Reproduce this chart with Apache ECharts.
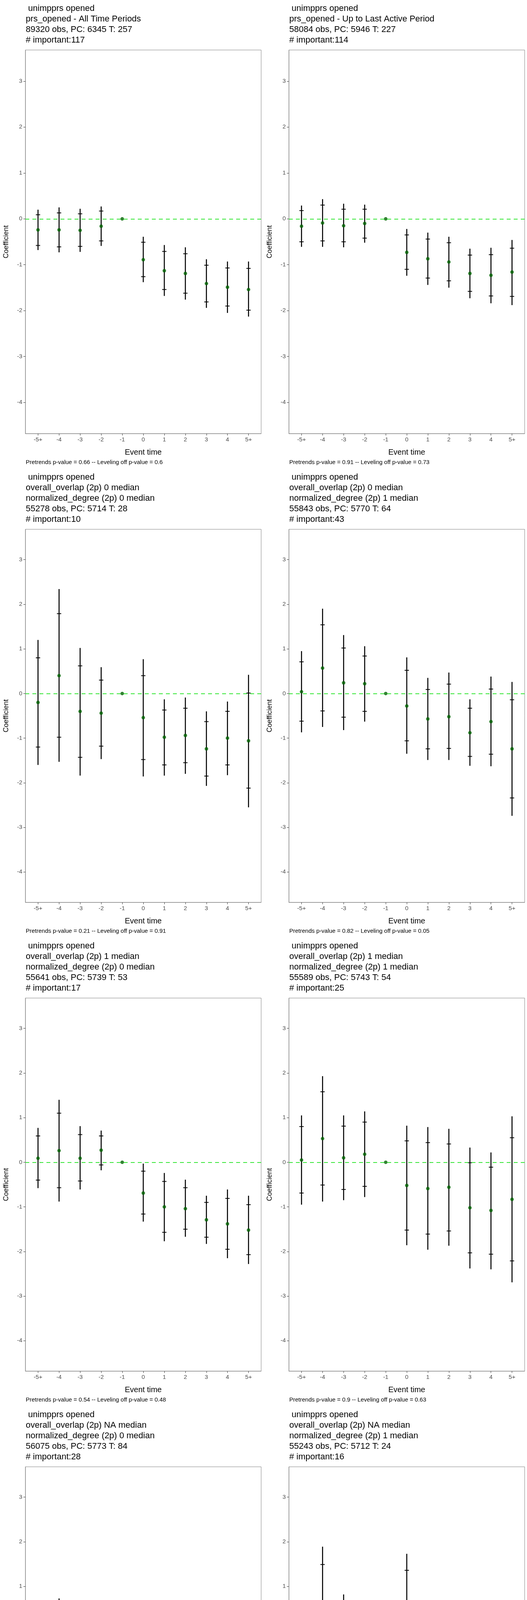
<!DOCTYPE html>
<html>
<head>
<meta charset="utf-8">
<script src="https://cdn.jsdelivr.net/npm/echarts@6.0.0/dist/echarts.min.js"></script>
<style>
  html, body { margin: 0; padding: 0; background: #fff; overflow: hidden; }
  #chart { width: 1350px; height: 4800px; }
</style>
</head>
<body>
<div id="chart"></div>
<script>
const eventLabels = ["-5+", "-4", "-3", "-2", "-1", "0", "1", "2", "3", "4", "5+"];
const yTicks = [-4, -3, -2, -1, 0, 1, 2, 3];

const titles = [
    [" unimpprs opened", "prs_opened - All Time Periods", "89320 obs, PC: 6345 T: 257", "# important:117"],
    [" unimpprs opened", "prs_opened - Up to Last Active Period", "58084 obs, PC: 5946 T: 227", "# important:114"],
    [" unimpprs opened", "overall_overlap (2p) 0 median", "normalized_degree (2p) 0 median", "55278 obs, PC: 5714 T: 28", "# important:10"],
    [" unimpprs opened", "overall_overlap (2p) 0 median", "normalized_degree (2p) 1 median", "55843 obs, PC: 5770 T: 64", "# important:43"],
    [" unimpprs opened", "overall_overlap (2p) 1 median", "normalized_degree (2p) 0 median", "55641 obs, PC: 5739 T: 53", "# important:17"],
    [" unimpprs opened", "overall_overlap (2p) 1 median", "normalized_degree (2p) 1 median", "55589 obs, PC: 5743 T: 54", "# important:25"],
    [" unimpprs opened", "overall_overlap (2p) NA median", "normalized_degree (2p) 0 median", "56075 obs, PC: 5773 T: 84", "# important:28"],
    [" unimpprs opened", "overall_overlap (2p) NA median", "normalized_degree (2p) 1 median", "55243 obs, PC: 5712 T: 24", "# important:16"]
];

const pvalues = [
    "Pretrends p-value = 0.66 -- Leveling off p-value = 0.6",
    "Pretrends p-value = 0.91 -- Leveling off p-value = 0.73",
    "Pretrends p-value = 0.21 -- Leveling off p-value = 0.91",
    "Pretrends p-value = 0.82 -- Leveling off p-value = 0.05",
    "Pretrends p-value = 0.54 -- Leveling off p-value = 0.48",
    "Pretrends p-value = 0.9 -- Leveling off p-value = 0.63",
    "Pretrends p-value = 0.32 -- Leveling off p-value = 0.62",
    "Pretrends p-value = 0.01 -- Leveling off p-value = 0"
];

// point estimates per panel (index 4 = reference period -1)
const estimates = [
    [-0.24, -0.24, -0.25, -0.16, 0, -0.89, -1.13, -1.19, -1.41, -1.49, -1.54],
    [-0.16, -0.09, -0.15, -0.10, 0, -0.73, -0.87, -0.94, -1.19, -1.23, -1.16],
    [-0.20, 0.40, -0.40, -0.44, 0, -0.54, -0.98, -0.94, -1.24, -1.00, -1.06],
    [0.04, 0.57, 0.24, 0.22, 0, -0.28, -0.57, -0.52, -0.88, -0.63, -1.24],
    [0.09, 0.26, 0.09, 0.27, 0, -0.69, -1.00, -1.04, -1.29, -1.38, -1.52],
    [0.05, 0.53, 0.10, 0.18, 0, -0.52, -0.59, -0.56, -1.02, -1.08, -0.83],
    [-0.29, -0.07, -0.25, -0.34, 0, -0.57, -0.88, -1.04, -1.27, -1.22, -1.31],
    [-0.88, -0.15, -0.70, -1.02, 0, -0.21, -1.33, -1.21, -1.60, -1.42, -2.19]
];
const innerLow = [
    [-0.58, -0.61, -0.60, -0.48, null, -1.26, -1.54, -1.62, -1.81, -1.90, -1.99],
    [-0.50, -0.48, -0.50, -0.42, null, -1.10, -1.29, -1.35, -1.58, -1.68, -1.69],
    [-1.20, -0.98, -1.43, -1.18, null, -1.48, -1.60, -1.55, -1.85, -1.60, -2.12],
    [-0.62, -0.39, -0.53, -0.40, null, -1.06, -1.24, -1.23, -1.41, -1.36, -2.34],
    [-0.40, -0.57, -0.42, -0.06, null, -1.16, -1.57, -1.50, -1.68, -1.95, -2.07],
    [-0.69, -0.51, -0.61, -0.54, null, -1.52, -1.61, -1.54, -2.03, -2.06, -2.21],
    [-0.71, -0.65, -0.65, -0.69, null, -1.18, -1.60, -1.62, -1.84, -1.89, -1.92],
    [-2.08, -1.78, -1.94, -2.04, null, -1.77, -2.18, -2.12, -2.47, -2.34, -3.03]
];
const innerHigh = [
    [0.09, 0.13, 0.11, 0.17, null, -0.51, -0.71, -0.76, -1.01, -1.07, -1.08],
    [0.18, 0.30, 0.21, 0.21, null, -0.35, -0.44, -0.52, -0.79, -0.78, -0.64],
    [0.80, 1.79, 0.62, 0.30, null, 0.40, -0.37, -0.33, -0.63, -0.40, 0.01],
    [0.71, 1.54, 1.02, 0.84, null, 0.52, 0.09, 0.21, -0.33, 0.10, -0.14],
    [0.59, 1.10, 0.62, 0.59, null, -0.20, -0.43, -0.57, -0.90, -0.81, -0.95],
    [0.80, 1.58, 0.81, 0.90, null, 0.48, 0.44, 0.41, -0.01, -0.11, 0.55],
    [0.13, 0.51, 0.15, -0.01, null, 0.05, -0.17, -0.47, -0.71, -0.54, -0.71],
    [0.34, 1.49, 0.53, 0.00, null, 1.36, -0.49, -0.30, -0.71, -0.50, -1.33]
];
const outerLow = [
    [-0.68, -0.73, -0.72, -0.59, null, -1.38, -1.68, -1.76, -1.94, -2.05, -2.13],
    [-0.61, -0.61, -0.62, -0.52, null, -1.24, -1.44, -1.50, -1.73, -1.84, -1.88],
    [-1.60, -1.53, -1.84, -1.47, null, -1.86, -1.84, -1.80, -2.07, -1.83, -2.55],
    [-0.87, -0.75, -0.82, -0.63, null, -1.35, -1.49, -1.49, -1.62, -1.63, -2.74],
    [-0.58, -0.88, -0.61, -0.18, null, -1.33, -1.77, -1.67, -1.83, -2.15, -2.28],
    [-0.95, -0.88, -0.85, -0.78, null, -1.86, -1.96, -1.87, -2.38, -2.40, -2.69],
    [-0.88, -0.88, -0.80, -0.82, null, -1.41, -1.86, -1.83, -2.05, -2.15, -2.15],
    [-2.37, -2.18, -2.23, -2.28, null, -2.14, -2.38, -2.34, -2.68, -2.57, -3.24]
];
const outerHigh = [
    [0.20, 0.25, 0.22, 0.27, null, -0.39, -0.57, -0.62, -0.88, -0.93, -0.93],
    [0.29, 0.43, 0.33, 0.31, null, -0.22, -0.30, -0.39, -0.65, -0.63, -0.46],
    [1.20, 2.34, 1.02, 0.59, null, 0.77, -0.13, -0.09, -0.40, -0.18, 0.42],
    [0.95, 1.90, 1.31, 1.06, null, 0.81, 0.35, 0.47, -0.13, 0.38, 0.26],
    [0.77, 1.40, 0.81, 0.71, null, -0.03, -0.24, -0.39, -0.75, -0.61, -0.75],
    [1.05, 1.93, 1.05, 1.14, null, 0.82, 0.79, 0.75, 0.33, 0.22, 1.03],
    [0.29, 0.73, 0.30, 0.12, null, 0.28, 0.10, -0.26, -0.50, -0.29, -0.48],
    [0.62, 1.89, 0.82, 0.24, null, 1.73, -0.30, -0.09, -0.51, -0.28, -1.14]
];

const FONT = "Liberation Sans, Arial, sans-serif";
const chart = echarts.init(document.getElementById("chart"), null, { renderer: "canvas" });

const grids = [], xAxes = [], yAxes = [], series = [], graphics = [];

titles.forEach((lines, i) => {
    const col = i % 2;
    const row = Math.floor(i / 2);
    const ox = col * 675;
    const oy = row * 1200;
    const top = oy + (lines.length === 4 ? 128 : 155);
    const bottom = oy + 1110;

    grids.push({
        left: ox + 65, width: 604, top, height: bottom - top,
        show: true, borderColor: "#7f7f7f", borderWidth: 1, backgroundColor: "#fff"
    });
    xAxes.push({
        type: "value", gridIndex: i, min: -0.6, max: 10.6,
        name: "Event time", nameLocation: "middle", nameGap: 38,
        nameTextStyle: { fontFamily: FONT, fontSize: 20, color: "#000" },
        axisLine: { show: true, onZero: false, lineStyle: { color: "#7f7f7f" } },
        axisTick: { show: true, customValues: eventLabels.map((_, k) => k), length: 5, lineStyle: { color: "#333" } },
        axisLabel: {
            customValues: eventLabels.map((_, k) => k), formatter: (v) => eventLabels[Math.round(v)],
            fontFamily: FONT, fontSize: 15, color: "#4d4d4d", margin: 8
        },
        splitLine: { show: false }
    });
    yAxes.push({
        type: "value", gridIndex: i, min: -4.68, max: 3.68,
        name: "Coefficient", nameLocation: "middle", nameGap: 40,
        nameTextStyle: { fontFamily: FONT, fontSize: 18, color: "#000" },
        axisLine: { show: true, onZero: false, lineStyle: { color: "#7f7f7f" } },
        axisTick: { show: true, customValues: yTicks, length: 5, lineStyle: { color: "#333" } },
        axisLabel: { customValues: yTicks, fontFamily: FONT, fontSize: 15, color: "#4d4d4d", margin: 8 },
        splitLine: { show: false }
    });

    const barData = estimates[i].map((_, k) => [k, outerLow[i][k], outerHigh[i][k], innerLow[i][k], innerHigh[i][k]])
        .filter((d) => d[1] !== null);
    series.push({
        type: "custom", xAxisIndex: i, yAxisIndex: i, data: barData, silent: true,
        encode: { x: 0, y: [1, 2] },
        renderItem(params, api) {
            const x = api.value(0);
            const oLo = api.coord([x, api.value(1)]);
            const oHi = api.coord([x, api.value(2)]);
            const iLo = api.coord([x, api.value(3)]);
            const iHi = api.coord([x, api.value(4)]);
            const style = { stroke: "#000", lineWidth: 2.6 };
            const cap = 5.5;
            return {
                type: "group",
                children: [
                    { type: "line", shape: { x1: oLo[0], y1: oLo[1], x2: oHi[0], y2: oHi[1] }, style },
                    { type: "line", shape: { x1: iLo[0] - cap, y1: iLo[1], x2: iLo[0] + cap, y2: iLo[1] }, style: { stroke: "#000", lineWidth: 2 } },
                    { type: "line", shape: { x1: iHi[0] - cap, y1: iHi[1], x2: iHi[0] + cap, y2: iHi[1] }, style: { stroke: "#000", lineWidth: 2 } }
                ]
            };
        },
        z: 3
    });
    series.push({
        type: "scatter", xAxisIndex: i, yAxisIndex: i,
        data: estimates[i].map((v, k) => [k, v]),
        symbol: "circle", symbolSize: 9,
        itemStyle: { color: "#006400" },
        markLine: {
            silent: true, symbol: "none", label: { show: false },
            lineStyle: { color: "#33e633", width: 2, type: [10, 8] },
            data: [{ yAxis: 0 }]
        },
        z: 4
    });

    graphics.push({
        type: "text", left: ox + 66, top: oy + 8,
        style: { text: lines.join("\n"), fontFamily: FONT, fontSize: 22, lineHeight: 27, fill: "#000" }
    });
    graphics.push({
        type: "text", left: ox + 66, top: oy + 1176,
        style: { text: pvalues[i], fontFamily: FONT, fontSize: 15, fill: "#000" }
    });
});

chart.setOption({
    animation: false,
    backgroundColor: "#fff",
    grid: grids,
    xAxis: xAxes,
    yAxis: yAxes,
    series,
    graphic: graphics
});
</script>
</body>
</html>
